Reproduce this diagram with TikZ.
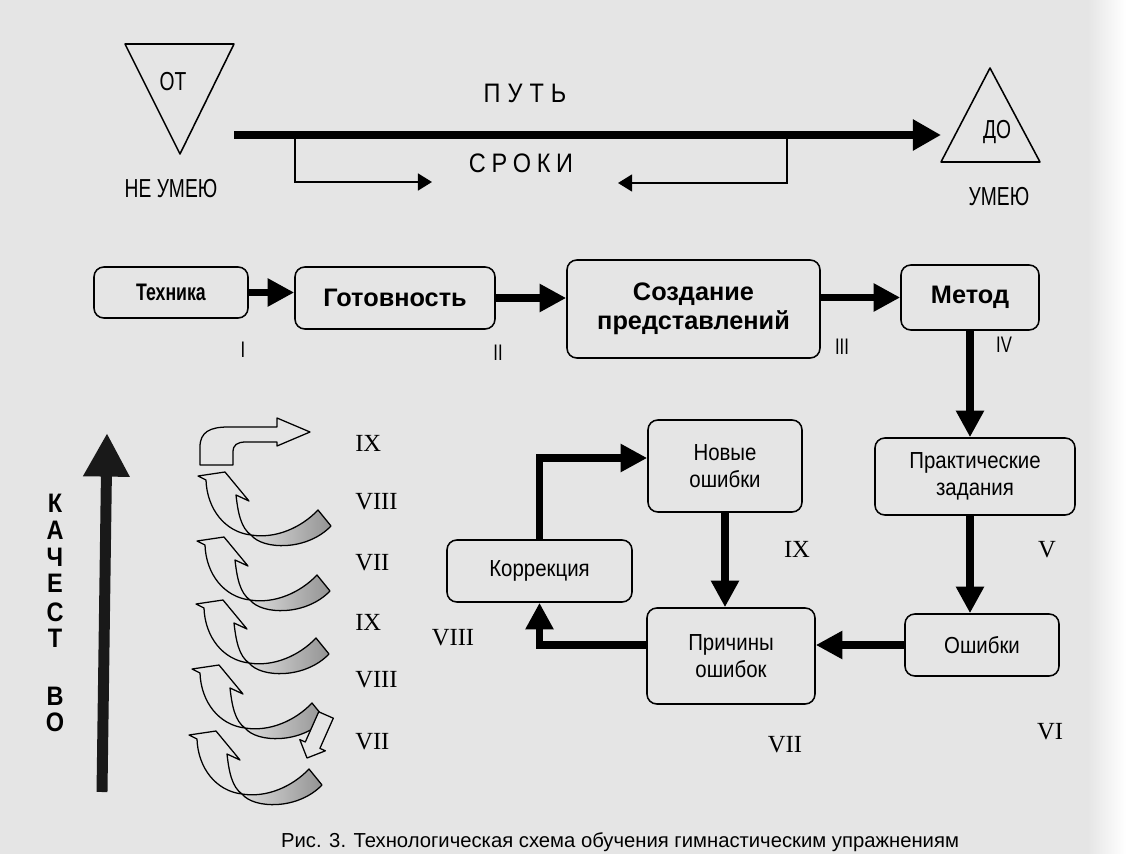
\documentclass[tikz,border=0pt]{standalone}
\usepackage{fontspec}
\setmainfont{Liberation Serif}
\newfontfamily\condsf[FakeStretch=0.88]{Liberation Sans}
\newfontfamily\tightsf[FakeStretch=0.74]{Liberation Sans}
\newfontfamily\plainsf{Liberation Sans}
\usetikzlibrary{arrows.meta, positioning}

\newcommand{\pxu}{0.025cm}

\tikzset{
  box/.style={draw, line width=1.1pt, rounded corners=7pt, align=center, inner sep=2pt,
    font=\condsf\fontsize{16.5}{19}\selectfont},
  boldbox/.style={box, font=\plainsf\bfseries\fontsize{18}{21}\selectfont},
  boxsize/.style 2 args={minimum width=#1*\pxu, minimum height=#2*\pxu},
  fat/.style={line width=5pt, -{Triangle[length=19pt,width=19pt]}},
  slim/.style={line width=1.4pt, -{Triangle[length=10pt,width=12pt]}},
  rim/.style={line width=0.9pt, line join=round},
  numeral/.style={font=\fontsize{17.5}{19}\selectfont, inner sep=0pt},
  stagenum/.style={font=\tightsf\fontsize{16}{18}\selectfont, inner sep=0pt},
  letter/.style={font=\condsf\bfseries\fontsize{19}{21}\selectfont, inner sep=0pt},
  toptext/.style={font=\tightsf\fontsize{18.5}{20}\selectfont, inner sep=0pt},
  spaced/.style={font=\condsf\fontsize{19}{22}\selectfont, inner sep=0pt},
  uturn/.pic={
    \shade[left color=black!14, right color=black!42]
      (26,62) .. controls (50,66) and (76,55) .. (93,37) -- (106,53)
      .. controls (82,78) and (38,77) .. (26,62) -- cycle;
    \draw[rim] (-19,7) -- (-27,3) -- (0,-1) -- (24,28) -- (11,22)
      .. controls (13,40) and (16,55) .. (26,62)
      .. controls (38,77) and (82,78) .. (106,53) -- (93,37)
      .. controls (76,55) and (50,66) .. (26,62)
      .. controls (0,59) and (-18,36) .. (-19,7);
  }
}

\begin{document}
\begin{tikzpicture}[x=0.025cm, y=-0.025cm]
\useasboundingbox (0,0) rectangle (1126,854);
\fill[black!10] (0,0) rectangle (1126,854);
\shade[left color=black!10, right color=white] (1088,0) rectangle (1126,854);

% from / to
\draw[line width=1.1pt, line join=round] (125,44) -- (234,44) -- (180,154) -- cycle;
\node[toptext] (from) at (173,82) {ОТ};
\node[toptext] (cannot) at (171,189) {НЕ УМЕЮ};
\draw[line width=1.1pt, line join=round] (990,68) -- (1040,162) -- (941,162) -- cycle;
\node[toptext] (to) at (997,132) {ДО};
\node[toptext] (can) at (999,197) {УМЕЮ};

\coordinate (pathstart) at (234,135);
\coordinate (pathend) at (941,135);
\coordinate (forkL) at (295,135);
\coordinate (forkR) at (787,135);
\coordinate (termL) at (432,182);
\coordinate (termR) at (618,183);
\draw[line width=5pt, -{Triangle[length=20pt,width=21pt]}] (pathstart) -- (pathend);
\draw[slim] (forkL) |- (termL);
\draw[slim] (forkR) |- (termR);
\node[spaced] (way) at (525,93) {П\hspace{5pt}У\hspace{5pt}Т\hspace{5pt}Ь};
\node[spaced] (terms) at (521,163) {С\hspace{4pt}Р\hspace{4pt}О\hspace{4pt}К\hspace{4pt}И};

% main chain
\node[boldbox, boxsize={154}{51}, font=\tightsf\bfseries\fontsize{17}{20}\selectfont] (tech) at (171,292.5) {Техника};
\node[boldbox, boxsize={200}{62}] (ready) at (395,298) {Готовность};
\node[boldbox, boxsize={253}{98}] (image) at (693.5,309) {Создание\\представлений};
\node[boldbox, boxsize={138}{65}] (method) at (970,297.5) {Метод};
\node[box, boxsize={200}{77}] (task) at (975,476.5) {Практические\\задания};
\node[box, boxsize={154}{62}] (errors) at (982,645) {Ошибки};
\node[box, boxsize={168}{96}] (causes) at (731,656) {Причины\\ошибок};
\node[box, boxsize={185}{62}] (fix) at (539.5,571) {Коррекция};
\node[box, boxsize={154}{92}] (newerr) at (725,466) {Новые\\ошибки};

\draw[fat] (tech.east) -- (tech.east -| ready.west);
\draw[fat] (ready.east) -- (ready.east -| image.west);
\draw[fat] (image.east |- method.west) -- (method.west);
\draw[fat] (method.south) -- (method.south |- task.north);
\draw[fat] (task.south -| method.south) -- (method.south |- errors.north);
\draw[fat] (errors.west) -- (errors.west -| causes.east);
\draw[fat] (causes.west |- errors.west) -| (fix.south);
\draw[fat] (fix.north) |- ([yshift=8*\pxu]newerr.west);
\draw[fat] (newerr.south) -- (newerr.south |- causes.north);

\node[stagenum] (s1) at (243,350) {I};
\node[stagenum] (s2) at (498,353) {II};
\node[stagenum] (s3) at (842,347) {III};
\node[stagenum] (s4) at (1004,345) {IV};
\node[numeral] (s5) at (1047,550) {V};
\node[numeral] (s6) at (1050,732) {VI};
\node[numeral] (s7) at (785,745) {VII};
\node[numeral] (s8) at (453,638) {VIII};
\node[numeral] (s9) at (797,549) {IX};

% quality
\draw[line width=7.8pt, black!90, -{Triangle[length=31pt,width=31pt]}] (102,792) -- (107,433);
\foreach \ch/\yy [count=\i] in {К/503,А/530,Ч/557,Е/583,С/612,Т/638,В/696,О/722}
  \node[letter] (q\i) at (55,\yy) {\ch};

\draw[rim] (200,465) -- (200,447) .. controls (200,432) and (210,427) .. (228,427)
  -- (277,427) -- (277,418) -- (310,432) -- (277,446) -- (277,442) -- (246,442)
  .. controls (237,442) and (233,445) .. (233,452) -- (233,465) -- cycle;
\pic (u1) at (225,473) {uturn};
\pic (u2) at (224,538) {uturn};
\pic (u3) at (223,601) {uturn};
\pic (u4) at (219,666) {uturn};
\pic (u5) at (216,732) {uturn};
\filldraw[rim, fill=black!10] (318.7,711.8) -- (333.3,718.2) -- (319.9,748.4) -- (325.4,750.8)
  -- (307,758) -- (299.8,739.6) -- (305.3,742) -- cycle;

\foreach \r/\yy [count=\i] in {IX/443,VIII/502,VII/563,IX/622,VIII/680,VII/742}
  \node[numeral, anchor=west] (n\i) at (355,\yy) {\r};

\node[font=\plainsf\fontsize{14.4}{16}\selectfont, anchor=base] (caption) at (620,847)
  {Рис. 3. Технологическая схема обучения гимнастическим упражнениям};
\end{tikzpicture}
\end{document}
